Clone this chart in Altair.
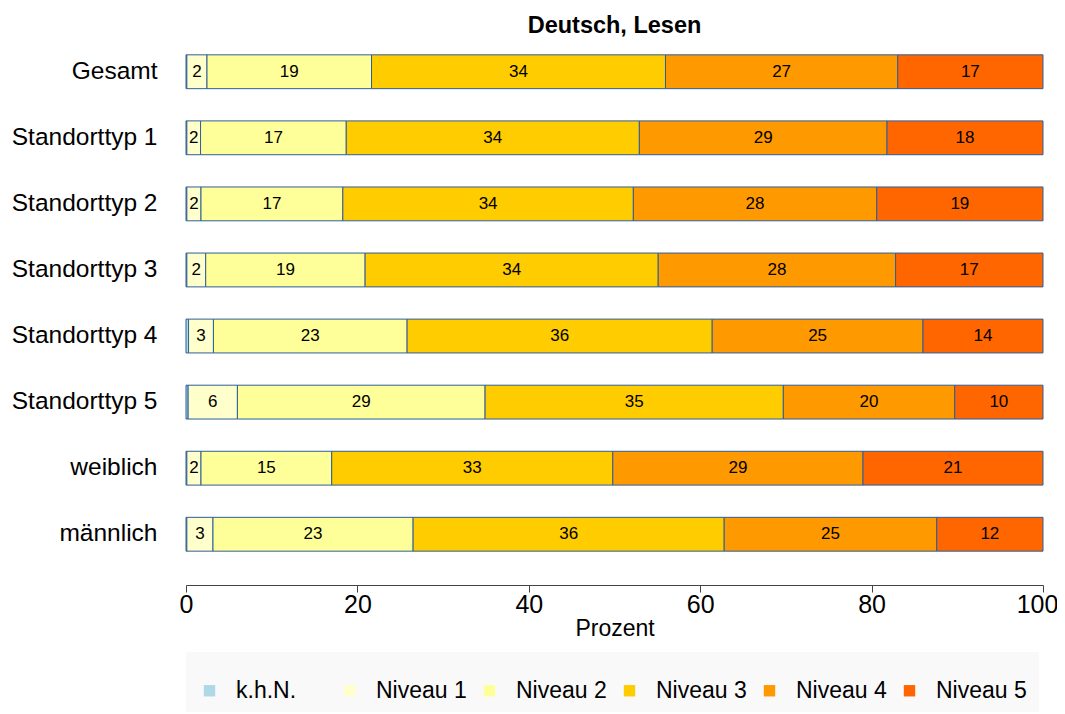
import altair as alt
import pandas as pd

categories = ["Gesamt", "Standorttyp 1", "Standorttyp 2", "Standorttyp 3",
              "Standorttyp 4", "Standorttyp 5", "weiblich", "männlich"]
levels = ["k.h.N.", "Niveau 1", "Niveau 2", "Niveau 3", "Niveau 4", "Niveau 5"]
colors = ["#ADD8E6", "#FFFFCC", "#FFFF99", "#FFCC00", "#FF9900", "#FF6600"]

khn     = [0.1, 0.1, 0.1, 0.1, 0.3, 0.25, 0.1, 0.1]
niveau1 = [2.35, 1.6, 1.65, 2.2, 2.9, 5.75, 1.65, 3.05]
niveau2 = [19.2, 17.0, 16.55, 18.6, 22.6, 28.9, 15.25, 23.35]
niveau3 = [34.3, 34.2, 33.9, 34.2, 35.6, 34.8, 32.8, 36.3]
niveau4 = [27.1, 28.9, 28.4, 27.7, 24.6, 20.0, 29.2, 24.8]
niveau5 = [16.95, 18.2, 19.4, 17.2, 14.0, 10.3, 21.0, 12.4]

series = [khn, niveau1, niveau2, niveau3, niveau4, niveau5]

rows = []
for i, cat in enumerate(categories):
    start = 0.0
    for j, lev in enumerate(levels):
        v = series[j][i]
        end = start + v
        rows.append({
            "cat": cat, "level": lev, "order": j,
            "start": start, "end": end, "mid": (start + end) / 2,
            "label": str(int(round(v))) if v >= 1 else "",
        })
        start = end
df = pd.DataFrame(rows)

FONT = "Liberation Sans"

y_enc = alt.Y("cat:N", sort=categories,
              scale=alt.Scale(paddingInner=0.488, paddingOuter=0.512),
              axis=alt.Axis(title=None, domain=False, ticks=False, grid=False, labelPadding=29,
                            labelFontSize=24.5, labelColor="black", labelFont=FONT))

bars = alt.Chart(df).mark_bar(stroke="#2E5E99", strokeWidth=1).encode(
    x=alt.X("start:Q", scale=alt.Scale(domain=[0, 100], nice=False),
            axis=alt.Axis(values=[0, 20, 40, 60, 80, 100], title="Prozent", grid=False,
                          domainColor="#444444", tickColor="#444444", tickSize=7,
                          labelFontSize=25, labelColor="black", labelPadding=0,
                          labelFlush=False,
                          labelOffset={"expr": "datum.value == 100 ? -6 : 0"},
                          labelFont=FONT, titleFont=FONT, titleFontSize=23,
                          titleFontWeight="normal", titleColor="black", titlePadding=0)),
    x2="end:Q",
    y=y_enc,
    color=alt.Color("level:N", scale=alt.Scale(domain=levels, range=colors),
                    legend=alt.Legend(title=" ", titleFontSize=8, titlePadding=7,
                                      orient="none", legendX=0, legendY=631,
                                      direction="horizontal", columns=6, gridAlign="all",
                                      columnPadding=11, padding=12, fillColor="#F9F9F9",
                                      symbolType="square", symbolSize=130,
                                      symbolStrokeWidth=0, labelFontSize=23,
                                      labelOffset=15, labelColor="black", labelFont=FONT)),
    order=alt.Order("order:Q"),
)

text = alt.Chart(df).transform_filter("datum.label != ''").mark_text(
    fontSize=17, color="black", font=FONT
).encode(
    x=alt.X("mid:Q"),
    y=alt.Y("cat:N", sort=categories),
    text="label:N",
)

chart = alt.layer(bars, text).properties(
    width=857, height=564,
    title=alt.TitleParams("Deutsch, Lesen", fontSize=23.5, fontWeight="bold", font=FONT,
                          offset=-16, anchor="middle", color="black"),
    padding={"left": 178, "top": 13, "right": 14, "bottom": 127},
    autosize=alt.AutoSizeParams(type="none"),
).configure(font=FONT).configure_axis(grid=False).configure_view(stroke=None, strokeWidth=0)

chart.save("out.html", embed_options={"renderer": "svg", "actions": False})
